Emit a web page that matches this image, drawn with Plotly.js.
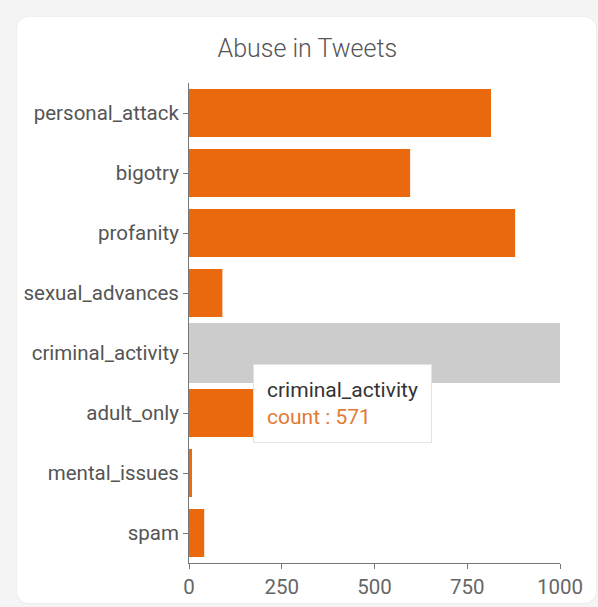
<!DOCTYPE html>
<html><head><meta charset="utf-8">
<script src="https://cdn.plot.ly/plotly-3.0.1.min.js"></script>
<style>
html,body{margin:0;padding:0;background:#f4f4f4;width:598px;height:607px;overflow:hidden;}
#card{position:absolute;left:17px;top:17px;width:579px;height:586px;background:#fff;border-radius:12px;box-shadow:0 0 2px rgba(0,0,0,0.08);}
#chart{position:absolute;left:0;top:0;width:598px;height:607px;}
</style></head>
<body>
<div id="card"></div>
<div id="chart"></div>
<script>
const categories = ["personal_attack","bigotry","profanity","sexual_advances","criminal_activity","adult_only","mental_issues","spam"];
const counts = [814, 596, 879, 90, 571, 215, 8, 41];
const xTicks = [0, 250, 500, 750, 1000];
const hovered = "criminal_activity";
const xMax = 1000;

const hi = categories.indexOf(hovered);
const orange = "#ea690e";

const trace = {
  type: "bar", orientation: "h",
  x: counts, y: categories,
  marker: {color: orange},
  hoverinfo: "skip"
};

const layout = {
  width: 598, height: 607,
  paper_bgcolor: "rgba(0,0,0,0)", plot_bgcolor: "rgba(0,0,0,0)",
  margin: {l: 189, r: 38, t: 83, b: 44},
  font: {family: "Roboto, sans-serif", color: "#555"},
  title: {text: "Abuse in Tweets", x: 0.514, xanchor: "center", y: 0.921, yanchor: "middle",
          font: {size: 25, color: "#555", family: "Roboto, sans-serif", weight: 300}},
  bargap: 0.2,
  showlegend: false,
  xaxis: {range: [0, xMax], tickvals: xTicks, ticktext: xTicks.map(String),
          showgrid: false, zeroline: false, showline: true, linecolor: "#777", linewidth: 1,
          ticks: "outside", ticklen: 5, tickcolor: "#777",
          tickfont: {size: 20.5, color: "#666"}, fixedrange: true},
  yaxis: {type: "category", categoryorder: "array", categoryarray: categories,
          autorange: "reversed", showgrid: false, zeroline: false,
          showline: true, linecolor: "#777", linewidth: 1,
          ticks: "outside", ticklen: 5, tickcolor: "#777",
          tickfont: {size: 20.5, color: "#555"}, fixedrange: true},
  shapes: [{type: "rect", layer: "above", xref: "x", yref: "y",
            x0: 0, x1: xMax, y0: hi - 0.5, y1: hi + 0.5,
            fillcolor: "#cccccc", line: {width: 0}}],
  annotations: [{
    xref: "x", yref: "y", x: 172, y: hi + 0.18, xanchor: "left", yanchor: "top",
    text: hovered + "<br><span style='color:#e07a35'>count : " + counts[hi] + "</span>",
    align: "left", showarrow: false,
    font: {size: 21, color: "#333", family: "Roboto, sans-serif"},
    bgcolor: "#ffffff", bordercolor: "#e2e2e2", borderwidth: 1, borderpad: 13
  }]
};

Plotly.newPlot("chart", [trace], layout, {displayModeBar: false, staticPlot: true});
</script>
</body></html>
